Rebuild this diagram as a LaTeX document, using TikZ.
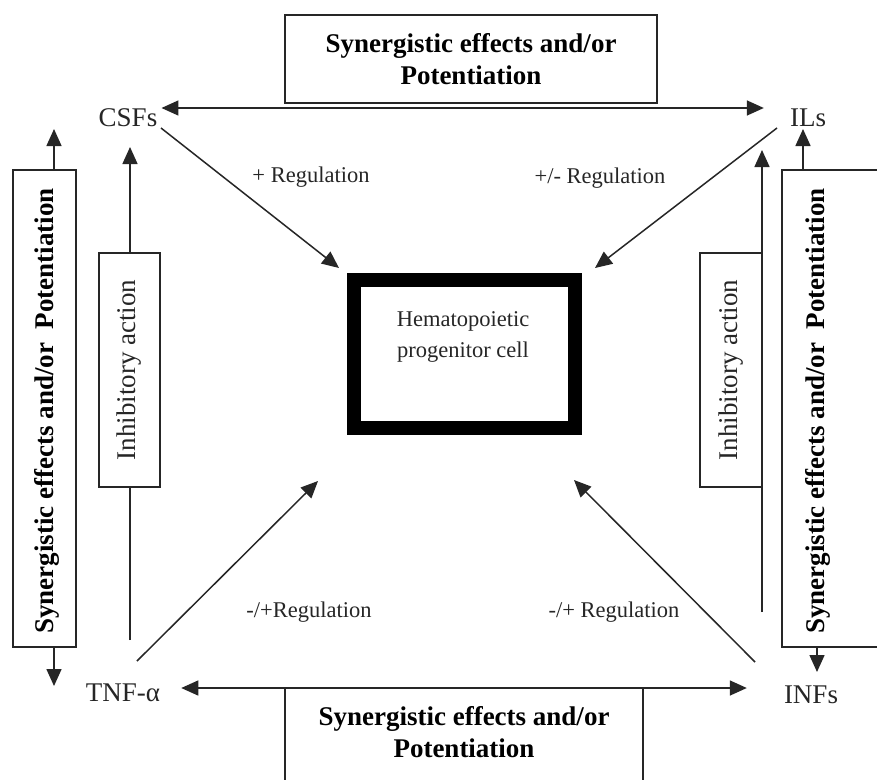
\documentclass[tikz,border=0pt]{standalone}
\usepackage{fontspec}
\setmainfont{Liberation Serif}
\usetikzlibrary{arrows.meta}
\definecolor{ink}{gray}{0.15}
\tikzset{
  lbl/.style={font=\fontsize{27}{31}\selectfont, text=ink, inner sep=2pt},
  reg/.style={font=\fontsize{22.5}{26}\selectfont, text=ink, inner sep=0pt},
  syn/.style={font=\bfseries\fontsize{27}{32}\selectfont, align=center, text=black, inner sep=0pt},
  inh/.style={font=\fontsize{27}{31}\selectfont, text=ink, inner sep=0pt},
  box/.style={draw=ink, line width=1.5pt, fill=white, inner sep=0pt},
  tip/.style={},
  arr/.style={draw=ink, line width=1.5pt, -{Triangle[length=17pt,width=15pt]}},
  dbl/.style={draw=ink, line width=1.5pt, {Triangle[length=17pt,width=15pt]}-{Triangle[length=17pt,width=15pt]}},
  hpcbox/.style={draw=black, line width=14pt, inner sep=0pt, fill=white}
}
\begin{document}
\begin{tikzpicture}[x=1pt,y=-1pt]
\useasboundingbox (0,0) rectangle (877,779);
\fill[white] (0,0) rectangle (877,779);
\clip (0,0) rectangle (877,779);

% corner labels
\node[lbl] (CSFs) at (128,118) {CSFs};
\node[lbl] (ILs) at (808,118) {ILs};
\node[lbl] (TNF) at (123,693) {TNF-α};
\node[lbl] (INFs) at (811,695) {INFs};

% central cell
\node[hpcbox, minimum width=221pt, minimum height=148pt] (hpc) at (464.5,354) {};
\node[font=\fontsize{22.5}{31}\selectfont, text=ink, align=center, inner sep=0pt] (hpctext) at (463,337) {Hematopoietic\\progenitor cell};

% top synergy box and arrow
\node[box, syn, minimum width=372pt, minimum height=88pt] (tsyn) at (471,59) {Synergistic effects and/or\\Potentiation};
\draw[dbl] ([xshift=2pt,yshift=10pt]CSFs.east) -- ([xshift=-24pt,yshift=10pt]ILs.west);

% bottom synergy box and arrow
\node[box, minimum width=358pt, minimum height=130pt] (bsyn) at (464,753) {};
\node[syn] (bsyntext) at (464,732) {Synergistic effects and/or\\Potentiation};
\draw[dbl] ([xshift=19pt,yshift=5pt]TNF.east) -- ([xshift=-35pt,yshift=7pt]INFs.west);

% left synergy box
\node[box, minimum width=63pt, minimum height=477pt] (lsyn) at (44.5,408.5) {};
\node[syn, rotate=90] (lsyntext) at (47,411) {Synergistic effects and/or\ \ Potentiation};
\coordinate (lup) at (54,129);
\coordinate (ldown) at (54,686);
\draw[arr] (lsyn.north -| lup) -- (lup);
\draw[arr] (lsyn.south -| ldown) -- (ldown);

% right synergy box
\node[box, minimum width=110pt, minimum height=477pt] (rsyn) at (837,408.5) {};
\node[syn, rotate=90] (rsyntext) at (818,411) {Synergistic effects and/or\ \ Potentiation};
\coordinate (rup) at (803,129);
\coordinate (rdown) at (817,672);
\draw[arr] (rsyn.north -| rup) -- (rup);
\draw[arr] (rsyn.south -| rdown) -- (rdown);

% left inhibitory action
\coordinate (linhbot) at (130,640);
\coordinate (linhtop) at (130,147);
\draw[arr] (linhbot) -- (linhtop);
\node[box, minimum width=61pt, minimum height=234pt] (linh) at (129.5,370) {};
\node[inh, rotate=90] at (linh.center) {Inhibitory action};

% right inhibitory action
\node[box, minimum width=62pt, minimum height=234pt] (rinh) at (731,370) {};
\node[inh, rotate=90] at (rinh.center) {Inhibitory action};
\coordinate (rinhbot) at (762,612);
\coordinate (rinhtop) at (762,150);
\draw[arr] (rinhbot) -- (rinhtop);

% regulation arrows
\coordinate (s1) at (161,128);
\coordinate (s2) at (777,128);
\coordinate (s3) at (137,661);
\coordinate (s4) at (755,662);
\coordinate (t1) at (339,268);
\coordinate (t2) at (595,268);
\coordinate (t3) at (318,481);
\coordinate (t4) at (574,480);
\draw[arr] (s1) -- (t1);
\draw[arr] (s2) -- (t2);
\draw[arr] (s3) -- (t3);
\draw[arr] (s4) -- (t4);

\node[reg] (r1) at (311,177) {+ Regulation};
\node[reg] (r2) at (600,178) {+/- Regulation};
\node[reg] (r3) at (309,612) {-/+Regulation};
\node[reg] (r4) at (614,612) {-/+ Regulation};
\end{tikzpicture}
\end{document}
